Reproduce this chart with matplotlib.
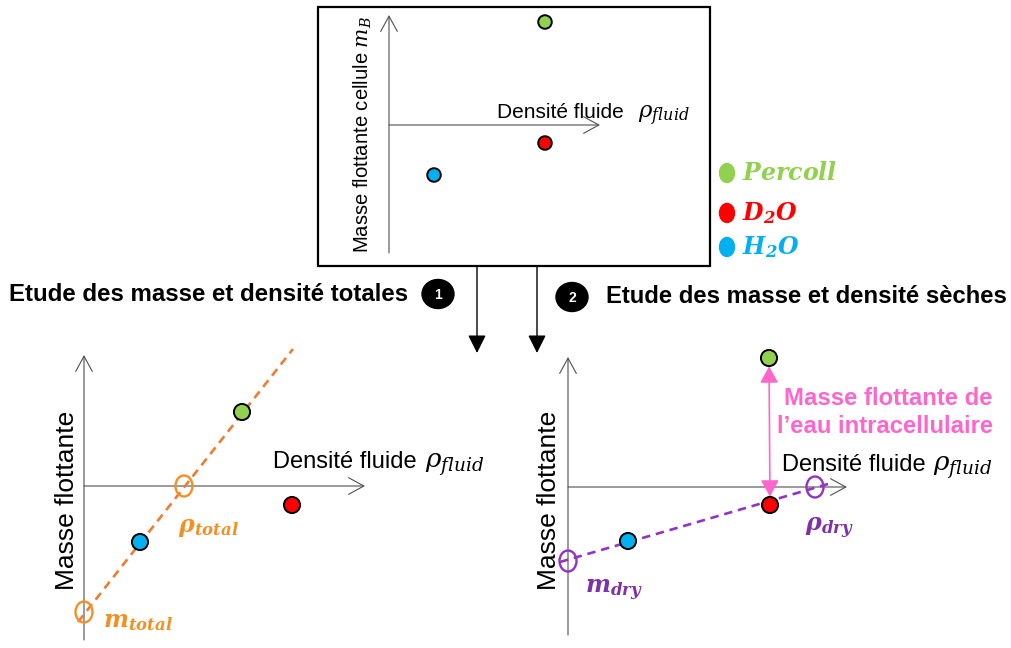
import matplotlib
matplotlib.use('Agg')
import matplotlib.pyplot as plt
from matplotlib.patches import Ellipse, FancyArrowPatch, Rectangle

plt.rcParams['font.family'] = ['Liberation Sans', 'DejaVu Sans']
plt.rcParams['mathtext.fontset'] = 'custom'
plt.rcParams['mathtext.rm'] = 'DejaVu Serif'
plt.rcParams['mathtext.it'] = 'DejaVu Serif:italic'
plt.rcParams['mathtext.bf'] = 'DejaVu Serif:italic:bold'

# fluids, same order in every panel
fluids = ['Percoll', 'D_2O', 'H_2O']
fluid_colors = ['#92D050', '#FF0000', '#00B0F0']

# schematic units: x = fluid density, y = buoyant mass, 0 where the axes cross
top_rho = [1.56, 1.56, 0.45]
top_mass = [1.03, -0.18, -0.50]

total_rho = [1.58, 2.08, 0.56]
total_mass = [0.74, -0.19, -0.56]
total_fit_rho = [-0.06, 2.09]
total_fit_mass = [-1.36, 1.37]
rho_total = 1.00
m_total = -1.26

dry_rho = [2.01, 2.02, 0.60]
dry_mass = [1.29, -0.18, -0.54]
dry_fit_rho = [-0.08, 2.60]
dry_fit_mass = [-0.75, 0.03]
rho_dry = 2.47
m_dry = -0.74

W, H = 1011, 648
PX = 100  # pixels per schematic unit

fig = plt.figure(figsize=(W / 100, H / 100), dpi=100)
bg = fig.add_axes([0, 0, 1, 1])
bg.set_xlim(0, W)
bg.set_ylim(H, 0)
bg.axis('off')

AXIS_COLOR = '#505050'


def panel(ox, oy, xlim, ylim):
    x0, x1 = ox + xlim[0] * PX, ox + xlim[1] * PX
    ytop, ybot = oy - ylim[1] * PX, oy - ylim[0] * PX
    ax = fig.add_axes([x0 / W, 1 - ybot / H, (x1 - x0) / W, (ybot - ytop) / H])
    ax.set_xlim(*xlim)
    ax.set_ylim(*ylim)
    ax.axis('off')
    return ax


def draw_axes(ax, x_end, y_bottom, y_top):
    style = '->,head_length=1.1,head_width=0.6'
    for a, b in [((0, 0), (x_end, 0)), ((0, y_bottom), (0, y_top))]:
        ax.add_patch(FancyArrowPatch(a, b, arrowstyle=style, mutation_scale=10,
                                     lw=0.8, color=AXIS_COLOR, shrinkA=0, shrinkB=0,
                                     clip_on=False))


def open_marker(ax, x, y, color):
    ax.add_patch(Ellipse((x, y), 0.17, 0.21, fill=False, ec=color, lw=1.7,
                         zorder=4, clip_on=False))


# ---- top panel ----
bg.add_patch(Rectangle((318, 7), 392, 259, fill=False, ec='black', lw=1.6))
ax_top = panel(389, 125, (-0.1, 3.0), (-1.35, 1.2))
draw_axes(ax_top, 2.11, -1.28, 1.10)
ax_top.scatter(top_rho, top_mass, s=95, c=fluid_colors, edgecolors='black',
               linewidths=1.4, zorder=3, clip_on=False)
bg.text(497, 118, 'Densité fluide', fontsize=15, va='baseline')
bg.text(638, 118, r'$\rho_{fluid}$', fontsize=16.5, va='baseline')
bg.text(363, 134, r'Masse flottante cellule $m_B$', fontsize=14.6, rotation=90,
        ha='center', va='center')

# legend
legend_y = [173, 213, 247]
for name, color, y in zip(fluids, fluid_colors, legend_y):
    bg.add_patch(Ellipse((727, y), 15, 19, color=color))
    bg.text(742, y + 7, r'$\mathbf{%s}$' % name, fontsize=17, color=color,
            va='baseline')

# ---- arrows and headings ----
for x in [477, 537]:
    bg.annotate('', xy=(x, 353), xytext=(x, 266),
                arrowprops=dict(arrowstyle='-|>,head_length=1.1,head_width=0.55',
                                mutation_scale=10, lw=1, color='black',
                                shrinkA=0, shrinkB=0))
for num, (cx, cy) in zip(['1', '2'], [(438, 294), (572, 297)]):
    bg.add_patch(Ellipse((cx, cy), 32, 29, color='black'))
    bg.text(cx, cy + 1, num, color='white', fontsize=10, fontweight='bold',
            ha='center', va='center')
bg.text(9, 301, 'Etude des masse et densité totales', fontsize=17.3,
        fontweight='bold', va='baseline')
bg.text(606, 303, 'Etude des masse et densité sèches', fontsize=17.2,
        fontweight='bold', va='baseline')

# ---- bottom left: total mass and density ----
orange_line, orange = '#ED7D31', '#F39025'
ax_tot = panel(84, 486, (-0.3, 3.0), (-1.6, 1.45))
draw_axes(ax_tot, 2.81, -1.54, 1.31)
ax_tot.plot(total_fit_rho, total_fit_mass, color=orange_line, lw=1.9,
            ls=(0, (3.2, 2.2)), zorder=2, clip_on=False)
ax_tot.scatter(total_rho, total_mass, s=135, c=fluid_colors, edgecolors='black',
               linewidths=1.4, zorder=3, clip_on=False)
open_marker(ax_tot, rho_total, 0, orange)
open_marker(ax_tot, 0, m_total, orange)
bg.text(67, 500, 'Masse flottante', fontsize=19, rotation=90, ha='center', va='center')
bg.text(273, 468, 'Densité fluide', fontsize=17, va='baseline')
bg.text(425, 468, r'$\rho_{fluid}$', fontsize=19, va='baseline')
bg.text(178, 532, r'$\mathbf{\rho_{total}}$', fontsize=17, color=orange, va='baseline')
bg.text(103, 627, r'$\mathbf{m_{total}}$', fontsize=17, color=orange, va='baseline')

# ---- bottom right: dry mass and density ----
purple_line, purple = '#9333C4', '#8030A8'
pink = '#FF66CC'
ax_dry = panel(568, 487, (-0.3, 3.0), (-1.55, 1.45))
draw_axes(ax_dry, 2.79, -1.48, 1.30)
ax_dry.plot(dry_fit_rho, dry_fit_mass, color=purple_line, lw=1.9,
            ls=(0, (3.2, 2.2)), zorder=2, clip_on=False)
ax_dry.scatter(dry_rho, dry_mass, s=135, c=fluid_colors, edgecolors='black',
               linewidths=1.4, zorder=3, clip_on=False)
open_marker(ax_dry, rho_dry, 0, purple_line)
open_marker(ax_dry, 0, m_dry, purple_line)
ax_dry.add_patch(FancyArrowPatch((dry_rho[1], dry_mass[1]), (dry_rho[0], dry_mass[0]),
                                 arrowstyle='<|-|>,head_length=1.0,head_width=0.55',
                                 mutation_scale=10, lw=1.2, color=pink,
                                 shrinkA=6, shrinkB=6, zorder=2.5, clip_on=False))
bg.text(549, 500, 'Masse flottante', fontsize=19, rotation=90, ha='center', va='center')
bg.text(782, 471, 'Densité fluide', fontsize=17, va='baseline')
bg.text(933, 471, r'$\rho_{fluid}$', fontsize=19, va='baseline')
bg.text(993, 405, 'Masse flottante de', fontsize=17.2, fontweight='bold', color=pink,
        ha='right', va='baseline')
bg.text(993, 433, 'l\u2019eau intracellulaire', fontsize=17.2, fontweight='bold',
        color=pink, ha='right', va='baseline')
bg.text(805, 531, r'$\mathbf{\rho_{dry}}$', fontsize=17, color=purple, va='baseline')
bg.text(585, 593, r'$\mathbf{m_{dry}}$', fontsize=17, color=purple, va='baseline')

fig.savefig('out.png', dpi=100)
